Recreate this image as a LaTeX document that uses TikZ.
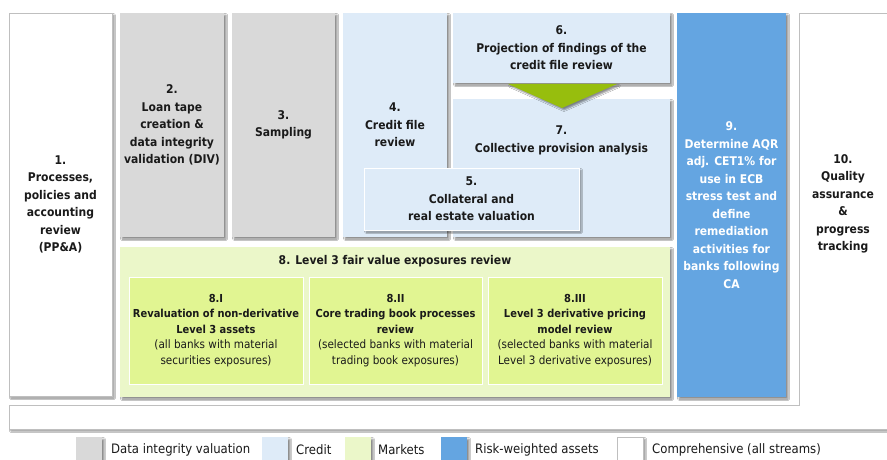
\documentclass[tikz,border=0pt]{standalone}
\usepackage{fontspec}
\setmainfont{DejaVu Sans Condensed}
\usetikzlibrary{shadows.blur}
\definecolor{cgray}{HTML}{D9D9D9}
\definecolor{ccredit}{HTML}{DEEBF8}
\definecolor{cmkt}{HTML}{EBF7C9}
\definecolor{cmkt2}{HTML}{E1F592}
\definecolor{crwa}{HTML}{64A5E1}
\definecolor{carrow}{HTML}{97BE0D}
\definecolor{cborder}{HTML}{BFBFBF}
\definecolor{ctext}{HTML}{1A1A1A}
\begin{document}
\begin{tikzpicture}[x=1pt,y=-1pt,
  sh/.style={blur shadow={shadow xshift=2pt,shadow yshift=-2pt,shadow blur steps=4,shadow blur radius=1.5pt,shadow opacity=45}},
  box/.style={sh,rectangle,inner sep=0pt,outer sep=0pt,anchor=north west,align=center,
    font=\fontsize{12}{17.5}\selectfont\bfseries,text=ctext},
  whitebox/.style={box,fill=white,draw=cborder},
  graybox/.style={box,fill=cgray},
  creditbox/.style={box,fill=ccredit},
  rwabox/.style={box,fill=crwa,text=white},
  mktbox/.style={box,fill=cmkt},
  subbox/.style={rectangle,inner sep=0pt,outer sep=0pt,anchor=north west,align=center,fill=cmkt2,draw=white,line width=0.8pt,
    font=\fontsize{11.6}{15.5}\selectfont,text=ctext},
  lab/.style={align=center,inner sep=0pt,font=\fontsize{12}{17.5}\selectfont\bfseries,text=ctext},
  legsq/.style={sh,rectangle,inner sep=0pt,anchor=north west,minimum width=26pt,minimum height=25pt},
  legtxt/.style={anchor=west,inner sep=0pt,font=\fontsize{13}{15}\selectfont,text=ctext}
]
\useasboundingbox (0,0) rectangle (887,460);
\clip (0,0) rectangle (887,460);
\fill[white] (0,0) rectangle (887,460);

% comprehensive L-shape (box 10 + bottom bar)
\path[sh,fill=white,draw=cborder] (9,405) -- (799,405) -- (799,13) -- (892,13) -- (892,429) -- (9,429) -- cycle;
\node[lab] (b10) at (843,204) {10.\\Quality\\assurance\\\&\\progress\\tracking};

% box 1
\node[whitebox,minimum width=103pt,minimum height=383pt] (b1) at (9,13) {1.\\Processes,\\policies and\\accounting\\review\\(PP\&A)};

% data integrity
\node[graybox,minimum width=104pt,minimum height=224pt] (b2) at (120,13) {2.\\Loan tape\\creation \&\\data integrity\\validation (DIV)};
\node[graybox,minimum width=103pt,minimum height=224pt] (b3) at (232,13) {3.\\Sampling};

% credit
\node[creditbox,minimum width=104pt,minimum height=224pt] (b4) at (343,13) {4.\\Credit file\\review};
\node[creditbox,minimum width=217pt,minimum height=138pt] (b7) at (453,99) {};
\node[lab] (t7) at (561.5,140.5) {7.\\Collective provision analysis};
\node[creditbox,minimum width=217pt,minimum height=70pt] (b6) at (453,13) {6.\\Projection of findings of the\\credit file review};
\path[sh,fill=carrow] (508,84) -- (617,84) -- (562,108) -- cycle;
\node[creditbox,draw=white,line width=0.8pt,minimum width=215pt,minimum height=62pt] (b5) at (364,168) {5.\\Collateral and\\real estate valuation};

% markets
\node[mktbox,minimum width=550pt,minimum height=150pt] (b8) at (120,247) {};
\node[lab] (t8) at (395,261.5) {8. Level 3 fair value exposures review};
\node[subbox,minimum width=174pt,minimum height=107pt] (b8i) at (129,277)
  {\textbf{\fontsize{11}{15.5}\selectfont 8.I}\\\textbf{\fontsize{11}{15.5}\selectfont Revaluation of non-derivative}\\\textbf{\fontsize{11}{15.5}\selectfont Level 3 assets}\\(all banks with material\\securities exposures)};
\node[subbox,minimum width=173pt,minimum height=107pt] (b8ii) at (309,277)
  {\textbf{\fontsize{11}{15.5}\selectfont 8.II}\\\textbf{\fontsize{11}{15.5}\selectfont Core trading book processes}\\\textbf{\fontsize{11}{15.5}\selectfont review}\\(selected banks with material\\trading book exposures)};
\node[subbox,minimum width=174pt,minimum height=107pt] (b8iii) at (488,277)
  {\textbf{\fontsize{11}{15.5}\selectfont 8.III}\\\textbf{\fontsize{11}{15.5}\selectfont Level 3 derivative pricing}\\\textbf{\fontsize{11}{15.5}\selectfont model review}\\(selected banks with material\\Level 3 derivative exposures)};

% RWA
\node[rwabox,minimum width=109pt,minimum height=384pt] (b9) at (677,13) {9.\\Determine AQR\\adj. CET1\% for\\use in ECB\\stress test and\\define\\remediation\\activities for\\banks following\\CA};

% legend
\node[legsq,fill=cgray] (l1) at (76,437) {};
\node[legtxt] (lt1) at (111,450) {Data integrity valuation};
\node[legsq,fill=ccredit] (l2) at (262,437) {};
\node[legtxt] (lt2) at (296,450) {Credit};
\node[legsq,fill=cmkt] (l3) at (345,437) {};
\node[legtxt] (lt3) at (378,450) {Markets};
\node[legsq,fill=crwa] (l4) at (441,437) {};
\node[legtxt] (lt4) at (475,450) {Risk-weighted assets};
\node[legsq,fill=white,draw=cborder] (l5) at (617,437) {};
\node[legtxt] (lt5) at (652,450) {Comprehensive (all streams)};
\end{tikzpicture}
\end{document}
